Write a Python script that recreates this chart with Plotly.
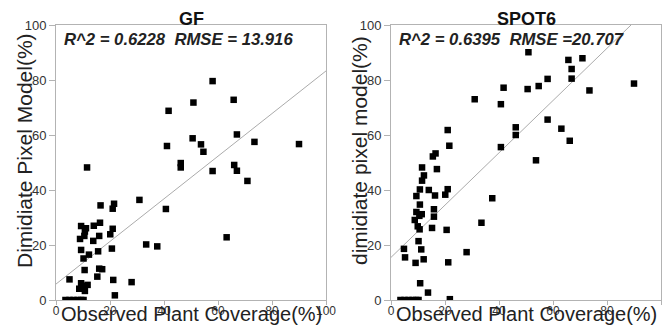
import plotly.graph_objects as go

# ---------------- data ----------------
gf_x = [58.0, 65.8, 50.9, 41.7, 67.0, 50.6, 53.7, 41.1, 54.6, 73.5, 90.0, 11.5,
        46.2, 46.2, 66.0, 58.0, 67.0, 70.9, 30.9, 40.7, 16.5, 21.5, 21.0, 16.3,
        14.0, 9.3, 11.1, 21.0, 10.7, 16.0, 20.1, 10.5, 8.9, 13.8, 63.2, 33.4,
        37.5, 20.7, 9.3, 15.6, 12.2, 10.2, 16.0, 17.1, 10.6, 15.3, 5.0, 21.2,
        28.0, 9.3, 11.7, 10.5, 8.6, 10.7, 21.8, 3.5, 5.0, 6.5, 8.0, 9.3, 10.2]
gf_y = [79.6, 72.8, 71.8, 68.8, 60.2, 58.8, 56.6, 56.0, 53.9, 57.5, 56.7, 48.2,
        49.8, 48.2, 49.1, 46.9, 47.0, 43.3, 36.4, 33.1, 34.4, 35.0, 33.2, 28.1,
        27.0, 26.9, 26.1, 25.9, 24.9, 23.3, 23.9, 23.3, 22.2, 21.5, 22.8, 20.2,
        19.5, 18.7, 18.2, 17.7, 16.5, 15.1, 11.4, 11.2, 10.9, 8.5, 7.5, 7.3,
        6.5, 6.1, 5.5, 5.1, 4.1, 3.3, 1.7, 0, 0, 0, 0, 0, 0]

spot_x = [50.9, 65.7, 70.9, 66.9, 66.9, 58.0, 54.7, 50.6, 41.7, 73.5, 90.0, 31.0,
          40.7, 58.0, 63.1, 46.2, 46.2, 21.0, 21.6, 40.7, 66.2, 53.7, 16.5, 15.5,
          11.5, 17.0, 12.2, 11.5, 14.0, 10.7, 21.0, 9.4, 16.3, 20.1, 37.5, 10.7,
          15.9, 9.4, 11.4, 15.9, 10.5, 8.8, 33.5, 9.9, 10.6, 15.2, 20.6, 10.2,
          4.8, 11.2, 28.0, 5.2, 12.1, 9.1, 21.2, 10.8, 13.7, 21.8,
          3.5, 5.0, 6.5, 8.0, 9.3, 10.2]
spot_y = [90.1, 87.3, 87.9, 84.0, 80.5, 80.4, 77.8, 76.7, 77.2, 76.2, 78.7, 73.0,
          71.2, 65.6, 62.3, 62.8, 60.0, 61.8, 56.1, 55.6, 57.9, 50.8, 53.3, 52.2,
          48.2, 47.6, 45.3, 43.4, 40.0, 40.2, 40.3, 37.8, 38.0, 38.3, 37.0, 34.7,
          33.0, 32.0, 31.2, 30.3, 30.6, 29.1, 28.1, 26.8, 25.7, 26.2, 25.5, 21.4,
          18.6, 18.4, 17.4, 15.5, 14.8, 13.5, 13.7, 6.1, 2.7, 0.3,
          0, 0, 0, 0, 0, 0]

gf_fit_x = [0, 100]
gf_fit_y = [5.8, 83.3]
spot_fit_x = [0, 88.9]
spot_fit_y = [15.5, 100]

panel_titles = ["GF", "SPOT6"]
stats_text = ["R^2 = 0.6228&nbsp;&nbsp;RMSE = 13.916", "R^2 = 0.6395&nbsp;&nbsp;RMSE =20.707"]
x_title = "Observed Plant Coverage(%)"
y_titles = ["Dimidiate Pixel Model(%)", "dimidiate pixel model(%)"]
tick_vals = [0, 20, 40, 60, 80, 100]

# ---------------- figure ----------------
W, H = 670, 336
ML, MR, MT, MB = 0, 0, 25, 36
PH = H - MT - MB

def px(x):
    return x / W

def py(y):
    return (H - MB - y) / PH

FONT = "Liberation Sans, Arial, sans-serif"
LINE = "#b3b3b3"

fig = go.Figure()

panels = [
    (gf_x, gf_y, gf_fit_x, gf_fit_y, "x", "y"),
    (spot_x, spot_y, spot_fit_x, spot_fit_y, "x2", "y2"),
]
for xs, ys, fx, fy, xa, ya in panels:
    fig.add_trace(go.Scatter(x=fx, y=fy, mode="lines", xaxis=xa, yaxis=ya,
                             line=dict(color="#ababab", width=1), hoverinfo="skip",
                             showlegend=False))
    fig.add_trace(go.Scatter(x=xs, y=ys, mode="markers", xaxis=xa, yaxis=ya,
                             marker=dict(symbol="square", size=6.5, color="black",
                                         line=dict(width=0)),
                             showlegend=False))

domains = [(56, 326), (391, 661)]
axis_common = dict(range=[0, 100], tickvals=tick_vals, showgrid=False, zeroline=False,
                   showline=True, mirror=True, linecolor=LINE, linewidth=1,
                   ticks="outside", tickcolor=LINE, fixedrange=True, automargin=False)

xaxis_style = dict(ticklen=4, ticklabelstandoff=-4,
                   tickfont=dict(size=12, color="#333333"), **axis_common)
yaxis_style = dict(ticklen=6, tickfont=dict(size=13, color="#333333"), **axis_common)

fig.update_layout(
    width=W, height=H,
    margin=dict(l=ML, r=MR, t=MT, b=MB),
    paper_bgcolor="white", plot_bgcolor="white",
    font=dict(family=FONT, color="#222222"),
    xaxis=dict(domain=[px(domains[0][0]), px(domains[0][1])], anchor="y", **xaxis_style),
    yaxis=dict(domain=[0, 1], anchor="x", **yaxis_style),
    xaxis2=dict(domain=[px(domains[1][0]), px(domains[1][1])], anchor="y2", **xaxis_style),
    yaxis2=dict(domain=[0, 1], anchor="x2", **yaxis_style),
)

ann = []
for i, (x0, x1) in enumerate(domains):
    cx = (x0 + x1) / 2
    ann.append(dict(text="<b>%s</b>" % panel_titles[i], x=px(cx), y=py(19),
                    xref="paper", yref="paper", showarrow=False,
                    xanchor="center", yanchor="middle",
                    font=dict(size=18, family=FONT, color="#111111")))
    ann.append(dict(text="<b><i>%s</i></b>" % stats_text[i], x=px(x0 + 6), y=py(39.5),
                    xref="paper", yref="paper", showarrow=False,
                    xanchor="left", yanchor="middle",
                    font=dict(size=16.7, family=FONT, color="#222222")))
    ann.append(dict(text=x_title, x=px(cx), y=py(314),
                    xref="paper", yref="paper", showarrow=False,
                    xanchor="center", yanchor="middle",
                    font=dict(size=20, family=FONT, color="#222222")))
    ann.append(dict(text=y_titles[i], x=px(x0 - 32), y=py(151),
                    xref="paper", yref="paper", showarrow=False, textangle=-90,
                    xanchor="center", yanchor="middle",
                    font=dict(size=21, family=FONT, color="#222222")))
fig.update_layout(annotations=ann)

fig.write_html("out.html", config={"displayModeBar": False},
               post_script="document.body.style.margin='0';document.body.style.padding='0';document.body.style.overflow='hidden';")
